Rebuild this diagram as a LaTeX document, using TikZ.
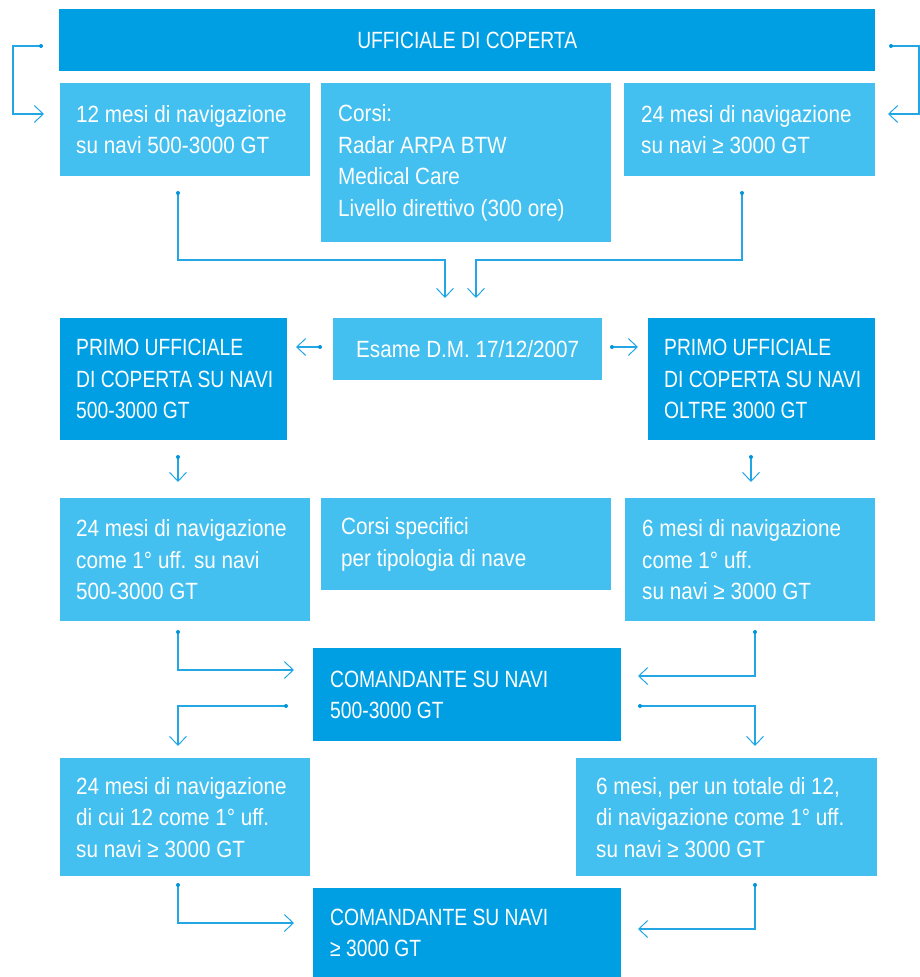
\documentclass[tikz,border=0pt]{standalone}
\usepackage{fontspec}
\setmainfont[FakeStretch=0.88]{Liberation Sans}
\newfontfamily\capsfam[FakeStretch=0.82]{Liberation Sans}
\usetikzlibrary{arrows.meta,calc}
\definecolor{dk}{HTML}{009FE3}
\definecolor{lt}{HTML}{43C0EF}
\definecolor{ln}{HTML}{22A6E4}
\definecolor{dotc}{HTML}{0095DA}
\begin{document}
\begin{tikzpicture}[x=1pt,y=-1pt,
 box/.style={rectangle, inner sep=0pt, anchor=north west},
 dkbox/.style={box, fill=dk},
 ltbox/.style={box, fill=lt},
 txt/.style={inner sep=0pt, anchor=west, text=white, align=left, font=\fontsize{23.5}{31.5}\selectfont},
 captxt/.style={txt, font=\fontsize{23.5}{31.5}\selectfont\capsfam},
 ctxt/.style={txt, anchor=center, align=center},
 conn/.style={draw=ln, line width=1.1pt, -{Straight Barb[length=9pt,width=17pt,line width=1pt]}},
 dotst/.style={fill=dotc},
]
\useasboundingbox (0,0) rectangle (920,977);

% boxes
\node[dkbox, minimum width=816pt, minimum height=62pt] (top) at (59,9) {};
\node[captxt, anchor=center, align=center] (topt) at (top.center) {UFFICIALE DI COPERTA};

\node[ltbox, minimum width=250pt, minimum height=93pt] (n1) at (60,83) {};
\node[txt] (n1t) at ($(n1.west)+(16,0)$) {12 mesi di navigazione\\su navi 500-3000 GT};

\node[ltbox, minimum width=290pt, minimum height=159pt] (corsi) at (321,83) {};
\node[txt] (corsit) at ($(corsi.west)+(17,0)$) {Corsi:\\Radar ARPA BTW\\Medical Care\\Livello direttivo (300 ore)};

\node[ltbox, minimum width=251pt, minimum height=93pt] (n2) at (624,83) {};
\node[txt] (n2t) at ($(n2.west)+(17,0)$) {24 mesi di navigazione\\su navi ≥ 3000 GT};

\node[ltbox, minimum width=269pt, minimum height=62pt] (esame) at (333,318) {};
\node[ctxt] (esamet) at (esame.center) {Esame D.M. 17/12/2007};

\node[dkbox, minimum width=227pt, minimum height=122pt] (p1) at (60,318) {};
\node[captxt] (p1t) at ($(p1.west)+(16,0)$) {PRIMO UFFICIALE\\DI COPERTA SU NAVI\\500-3000 GT};

\node[dkbox, minimum width=227pt, minimum height=122pt] (p2) at (648,318) {};
\node[captxt] (p2t) at ($(p2.west)+(16,0)$) {PRIMO UFFICIALE\\DI COPERTA SU NAVI\\OLTRE 3000 GT};

\node[ltbox, minimum width=250pt, minimum height=123pt] (r3a) at (60,498) {};
\node[txt] (r3at) at ($(r3a.west)+(16,0)$) {24 mesi di navigazione\\come 1° uff. su navi\\500-3000 GT};

\node[ltbox, minimum width=290pt, minimum height=92pt] (r3b) at (321,498) {};
\node[txt] (r3bt) at ($(r3b.west)+(20,0)$) {Corsi specifici\\per tipologia di nave};

\node[ltbox, minimum width=250pt, minimum height=123pt] (r3c) at (625,498) {};
\node[txt] (r3ct) at ($(r3c.west)+(17,0)$) {6 mesi di navigazione\\come 1° uff.\\su navi ≥ 3000 GT};

\node[dkbox, minimum width=308pt, minimum height=93pt] (com1) at (313,648) {};
\node[captxt] (com1t) at ($(com1.west)+(17,0)$) {COMANDANTE SU NAVI\\500-3000 GT};

\node[ltbox, minimum width=250pt, minimum height=118pt] (r4a) at (60,758) {};
\node[txt] (r4at) at ($(r4a.west)+(16,0)$) {24 mesi di navigazione\\di cui 12 come 1° uff.\\su navi ≥ 3000 GT};

\node[ltbox, minimum width=301pt, minimum height=118pt] (r4b) at (576,758) {};
\node[txt] (r4bt) at ($(r4b.west)+(20,0)$) {6 mesi, per un totale di 12,\\di navigazione come 1° uff.\\su navi ≥ 3000 GT};

\node[dkbox, minimum width=308pt, minimum height=89pt] (com2) at (313,888) {};
\node[captxt] (com2t) at ($(com2.west)+(17,0)$) {COMANDANTE SU NAVI\\≥ 3000 GT};

% connector coordinates
\coordinate (lA) at (41,46);   \coordinate (lT) at (44,114);
\coordinate (rA) at (891,46);  \coordinate (rT) at (888,114);
\coordinate (d1) at (178,193); \coordinate (d1t) at (445,298);
\coordinate (d2) at (742,193); \coordinate (d2t) at (476,298);
\coordinate (eL) at (320,347); \coordinate (eLt) at (296,347);
\coordinate (eR) at (612,347); \coordinate (eRt) at (638,347);
\coordinate (p1d) at (178,457); \coordinate (p1dt) at (178,482);
\coordinate (p2d) at (751,457); \coordinate (p2dt) at (751,482);
\coordinate (a3) at (178,632); \coordinate (a3t) at (294,670);
\coordinate (c3) at (755,632); \coordinate (c3t) at (638,676);
\coordinate (cL) at (286,706); \coordinate (cLt) at (178,746);
\coordinate (cR) at (640,706); \coordinate (cRt) at (755,746);
\coordinate (a4) at (178,885); \coordinate (a4t) at (294,923);
\coordinate (b4) at (755,885); \coordinate (b4t) at (638,929);

\draw[conn] (lA) -- (13,46) -- (13,114) -- (lT);
\draw[conn] (rA) -- (919,46) -- (919,114) -- (rT);
\draw[conn] (d1) |- (445,260) -- (d1t);
\draw[conn] (d2) |- (476,260) -- (d2t);
\draw[conn] (eL) -- (eLt);
\draw[conn] (eR) -- (eRt);
\draw[conn] (p1d) -- (p1dt);
\draw[conn] (p2d) -- (p2dt);
\draw[conn] (a3) |- (a3t);
\draw[conn] (c3) |- (c3t);
\draw[conn] (cL) -| (cLt);
\draw[conn] (cR) -| (cRt);
\draw[conn] (a4) |- (a4t);
\draw[conn] (b4) |- (b4t);

\foreach \p in {lA,rA,d1,d2,eL,eR,p1d,p2d,a3,c3,cL,cR,a4,b4}
  \fill[dotst] (\p) circle (2pt);
\end{tikzpicture}
\end{document}
